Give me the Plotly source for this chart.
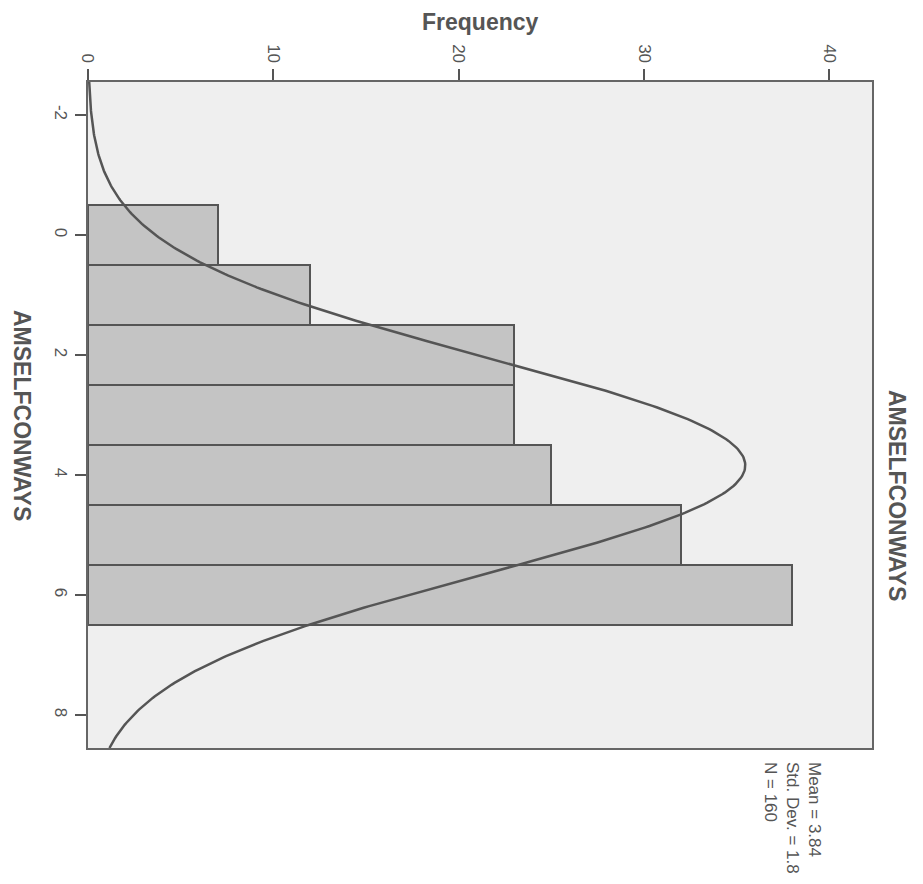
import numpy as np
import plotly.graph_objects as go

# Data
categories = [0, 1, 2, 3, 4, 5, 6]
frequencies = [7, 12, 23, 23, 25, 32, 38]
x_tick_vals = [0, 10, 20, 30, 40]
x_tick_text = ["0", "10", "20", "30", "40"]
y_tick_vals = [-2, 0, 2, 4, 6, 8]
y_tick_text = ["-2", "0", "2", "4", "6", "8"]
stat_mean = 3.84
stat_sd = 1.8
stat_n = 160
bin_width = 1.0

y_range = [-2.55, 8.55]

# Fitted normal curve (from displayed mean, sd, N)
ys = np.linspace(y_range[0], y_range[1], 400)
xs = stat_n * bin_width / (stat_sd * np.sqrt(2 * np.pi)) * np.exp(-0.5 * ((ys - stat_mean) / stat_sd) ** 2)

fig = go.Figure()
fig.add_trace(go.Bar(
    x=frequencies, y=categories, orientation="h", width=1.0,
    marker=dict(color="#c4c4c4", line=dict(color="#555555", width=2)),
    showlegend=False, hoverinfo="skip",
))
fig.add_trace(go.Scatter(
    x=xs, y=ys, mode="lines", line=dict(color="#555555", width=2.5),
    showlegend=False, hoverinfo="skip",
))

axis_font = dict(family="Liberation Sans, Arial, sans-serif", size=17, color="#555555")

W, H = 923, 884
OFF = 8  # page body margin
l, r, t, b = 80, 59, 74, 144
pw, ph = W - l - r, H - t - b

def px(xp):
    return (xp - OFF - l) / pw

def py(yp):
    return 1 - (yp - OFF - t) / ph

fig.update_layout(
    width=W, height=H,
    margin=dict(l=l, r=r, t=t, b=b, autoexpand=False),
    paper_bgcolor="white",
    plot_bgcolor="#efefef",
    bargap=0,
    xaxis=dict(
        side="top", range=[0, 42.3], tickvals=x_tick_vals, ticktext=x_tick_text,
        tickangle=90, ticks="outside", ticklen=11, tickwidth=2, tickcolor="#555555",
        showgrid=False, zeroline=False, showline=True, linecolor="#666666", linewidth=2,
        mirror=True, tickfont=axis_font, automargin=False,
    ),
    yaxis=dict(
        range=[y_range[1], y_range[0]], tickvals=y_tick_vals, ticktext=y_tick_text,
        tickangle=90, ticks="outside", ticklen=11, tickwidth=2, tickcolor="#555555",
        showgrid=False, zeroline=False, showline=True, linecolor="#666666", linewidth=2,
        mirror=True, tickfont=axis_font, automargin=False,
    ),
)

title_font = dict(family="Liberation Sans, Arial, sans-serif", size=23, color="#555555")
fig.update_layout(annotations=[
    dict(text="<b>Frequency</b>", x=px(480), y=py(22), xref="paper", yref="paper",
         xanchor="center", yanchor="middle", showarrow=False, font=title_font),
    dict(text="<b>AMSELFCONWAYS</b>", x=px(22), y=py(415), xref="paper", yref="paper",
         xanchor="center", yanchor="middle", showarrow=False, textangle=90, font=title_font),
    dict(text="<b>AMSELFCONWAYS</b>", x=px(897), y=py(495), xref="paper", yref="paper",
         xanchor="center", yanchor="middle", showarrow=False, textangle=90, font=title_font),
    dict(text="Mean = %.2f<br>Std. Dev. = %.1f<br>N = %d" % (stat_mean, stat_sd, stat_n),
         x=px(793), y=py(760), xref="paper", yref="paper", xanchor="center", yanchor="top",
         showarrow=False, textangle=90, align="left",
         font=dict(family="Liberation Sans, Arial, sans-serif", size=17, color="#555555")),
])

fig.write_html("out.html")
